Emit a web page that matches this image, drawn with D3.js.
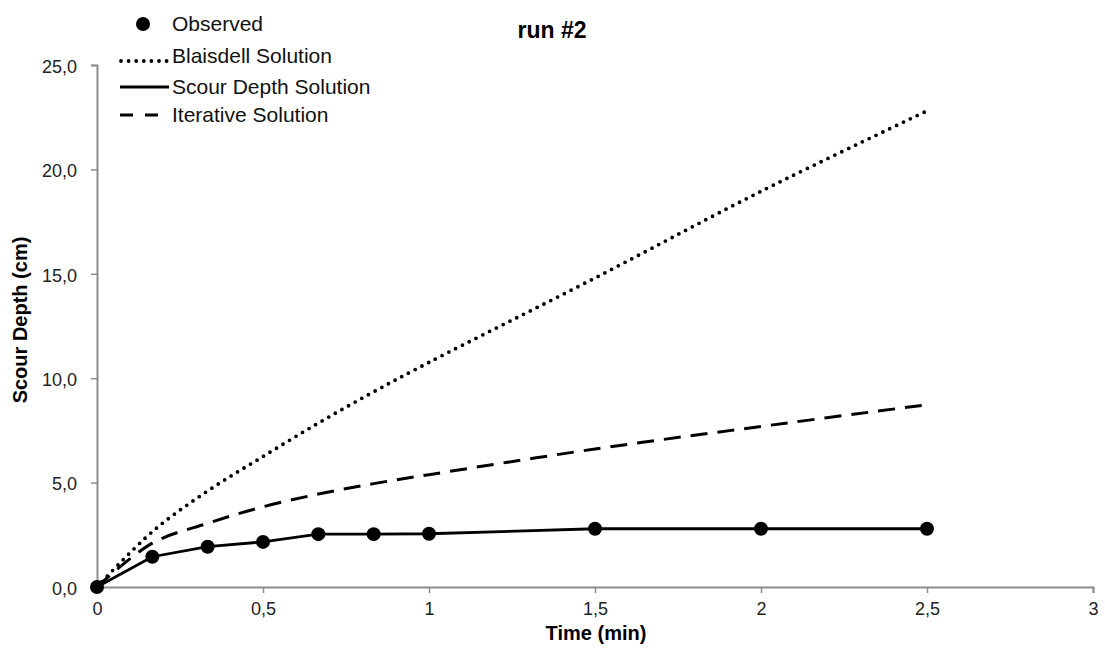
<!DOCTYPE html>
<html>
<head>
<meta charset="utf-8">
<script src="https://cdn.jsdelivr.net/npm/d3@7"></script>
<style>
  html, body { margin: 0; padding: 0; background: #fff; }
  svg { display: block; font-family: "Liberation Sans", Arial, sans-serif; }
</style>
</head>
<body>
<svg id="chart" width="1105" height="651"></svg>
<script>
// Time (min) at which each series is evaluated
const times = [0, 1/6, 1/3, 0.5, 2/3, 5/6, 1, 1.5, 2, 2.5];
// Measured scour depth (cm)
const observed = [0, 1.45, 1.93, 2.16, 2.53, 2.53, 2.55, 2.79, 2.79, 2.79];
// Model solutions (cm)
const scourDepthSolution = [0, 1.45, 1.93, 2.16, 2.53, 2.53, 2.55, 2.79, 2.79, 2.79];
const blaisdell = [0, 2.65, 4.6, 6.25, 7.85, 9.35, 10.76, 14.8, 18.95, 22.8];
const iterative = [0, 2.1, 3.05, 3.84, 4.45, 4.95, 5.38, 6.61, 7.69, 8.73];

const xTicks = [0, 0.5, 1, 1.5, 2, 2.5, 3];
const yTicks = [0, 5, 10, 15, 20, 25];

const legendLabels = ["Observed", "Blaisdell Solution", "Scour Depth Solution", "Iterative Solution"];

const svg = d3.select("#chart");
const margin = { left: 97, right: 12, top: 65, bottom: 64 };
const W = 1105, H = 651;

const x = d3.scaleLinear().domain([0, 3]).range([margin.left, W - margin.right]);
const y = d3.scaleLinear().domain([0, 25]).range([H - margin.bottom, margin.top]);

const comma = v => d3.format(".1f")(v).replace(".", ",");
const commaX = v => String(v).replace(".", ",");

// Axes
const axisColor = "#8c8c8c";
const gx = svg.append("g")
  .attr("transform", `translate(0,${y(0)})`)
  .call(d3.axisBottom(x).tickValues(xTicks).tickFormat(commaX).tickSize(6).tickPadding(9));
const gy = svg.append("g")
  .attr("transform", `translate(${x(0)},0)`)
  .call(d3.axisLeft(y).tickValues(yTicks).tickFormat(comma).tickSize(6).tickPadding(14));
[gx, gy].forEach(g => {
  g.select(".domain").attr("stroke", axisColor).attr("stroke-width", 2);
  g.selectAll(".tick line").attr("stroke", axisColor).attr("stroke-width", 1.5);
  g.selectAll(".tick text").attr("fill", "#222").style("font-size", "18px")
    .style("font-family", "'Liberation Sans', Arial, sans-serif");
});
gy.selectAll(".tick text").attr("dy", "0.4em");

const pts = vals => times.map((t, i) => [t, vals[i]]);
const smooth = d3.line().x(d => x(d[0])).y(d => y(d[1])).curve(d3.curveCatmullRom.alpha(0.5));
const straight = d3.line().x(d => x(d[0])).y(d => y(d[1]));

// Model curves
svg.append("path").attr("d", smooth(pts(blaisdell)))
  .attr("fill", "none").attr("stroke", "#000").attr("stroke-width", 3.8)
  .attr("stroke-linecap", "round").attr("stroke-dasharray", "0 7.6");
svg.append("path").attr("d", smooth(pts(iterative)))
  .attr("fill", "none").attr("stroke", "#000").attr("stroke-width", 3)
  .attr("stroke-dasharray", "17 10");
svg.append("path").attr("d", straight(pts(scourDepthSolution)))
  .attr("fill", "none").attr("stroke", "#000").attr("stroke-width", 2.8);

// Observed points
svg.append("g").selectAll("circle").data(pts(observed)).join("circle")
  .attr("cx", d => x(d[0])).attr("cy", d => y(d[1])).attr("r", 7).attr("fill", "#000");

// Title and axis labels
svg.append("text").attr("x", 552).attr("y", 38).attr("text-anchor", "middle")
  .style("font-size", "23px").style("font-weight", "bold").text("run #2");
svg.append("text").attr("x", 596).attr("y", 640).attr("text-anchor", "middle")
  .style("font-size", "20px").style("font-weight", "bold").text("Time (min)");
svg.append("text").attr("transform", `translate(27,320) rotate(-90)`)
  .attr("text-anchor", "middle")
  .style("font-size", "20px").style("font-weight", "bold").text("Scour Depth (cm)");

// Legend
const lg = svg.append("g");
const symY = [24, 61, 87, 115];
const baseY = [31, 63, 94, 122];
const textX = 172;
lg.append("circle").attr("cx", 143).attr("cy", symY[0]).attr("r", 7).attr("fill", "#000");
lg.append("line").attr("x1", 121).attr("x2", 167).attr("y1", symY[1]).attr("y2", symY[1])
  .attr("stroke", "#000").attr("stroke-width", 3.8).attr("stroke-linecap", "round").attr("stroke-dasharray", "0 7.6");
lg.append("line").attr("x1", 120).attr("x2", 169).attr("y1", symY[2]).attr("y2", symY[2])
  .attr("stroke", "#000").attr("stroke-width", 2.8);
lg.append("line").attr("x1", 120).attr("x2", 158).attr("y1", symY[3]).attr("y2", symY[3])
  .attr("stroke", "#000").attr("stroke-width", 3).attr("stroke-dasharray", "13 12");
lg.selectAll("text").data(legendLabels).join("text")
  .attr("x", textX).attr("y", (d, i) => baseY[i])
  .style("font-size", "21px").attr("fill", "#111").text(d => d);
</script>
</body>
</html>
